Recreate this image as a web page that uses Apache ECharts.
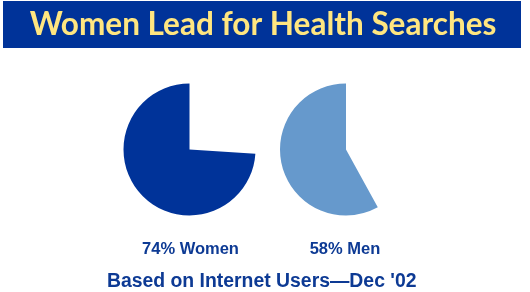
<!DOCTYPE html>
<html><head><meta charset="utf-8">
<script src="https://cdn.jsdelivr.net/npm/echarts@6/dist/echarts.min.js"></script>
<style>html,body{margin:0;padding:0;background:#fff}#c{width:530px;height:292px}</style>
</head><body><div id="c"></div>
<script>
const title = "Women Lead for Health Searches";
const subtitle = "Based on Internet Users\u2014Dec '02";
const categories = ["Women", "Men"];
const values = [74, 58];
const colors = ["#003399", "#6699cc"];

const chart = echarts.init(document.getElementById('c'), null, {renderer: 'canvas'});
const centers = [[189.5, 149.5], [346, 149.5]];
const series = categories.map((c, i) => ({
  type: 'pie',
  center: centers[i],
  radius: 66,
  startAngle: 90,
  clockwise: false,
  silent: true,
  label: {show: false},
  labelLine: {show: false},
  emphasis: {disabled: true},
  data: [
    {value: values[i], name: c, itemStyle: {color: colors[i]}},
    {value: 100 - values[i], name: 'rest', itemStyle: {color: 'rgba(0,0,0,0)'}}
  ]
}));
chart.setOption({
  animation: false,
  backgroundColor: '#fff',
  series: series,
  graphic: [
    {type: 'rect', shape: {x: 3, y: 1, width: 518, height: 47}, style: {fill: '#003399'}},
    {type: 'text', x: 263, y: 25, style: {text: title, fill: '#ffe680', font: 'bold 31.5px Lato', align: 'center', verticalAlign: 'middle'}},
    {type: 'text', x: 190.5, y: 249, style: {text: values[0] + '% ' + categories[0], fill: '#0d3a94', font: 'bold 16.5px "Liberation Sans"', align: 'center', verticalAlign: 'middle'}},
    {type: 'text', x: 345, y: 249, style: {text: values[1] + '% ' + categories[1], fill: '#0d3a94', font: 'bold 16.5px "Liberation Sans"', align: 'center', verticalAlign: 'middle'}},
    {type: 'text', x: 261.7, y: 282, style: {text: subtitle, fill: '#0d3a94', font: 'bold 19.4px "Liberation Sans"', align: 'center', verticalAlign: 'middle'}}
  ]
});
</script></body></html>
